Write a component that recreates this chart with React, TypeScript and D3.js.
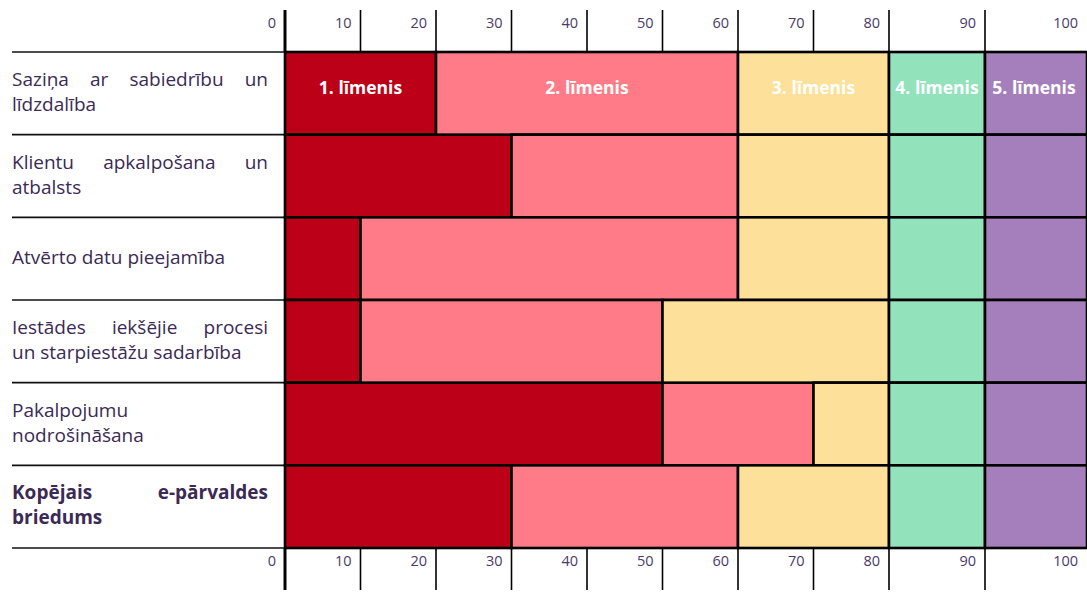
import React, { useEffect, useRef } from 'react';
import * as d3 from 'd3';

// row labels, split into lines as in the source table
const categories = [
  'Saziņa ar sabiedrību un līdzdalība',
  'Klientu apkalpošana un atbalsts',
  'Atvērto datu pieejamība',
  'Iestādes iekšējie procesi un starpiestāžu sadarbība',
  'Pakalpojumu nodrošināšana',
  'Kopējais e-pārvaldes briedums',
];
const labelLines = [
  ['Saziņa ar sabiedrību un', 'līdzdalība'],
  ['Klientu apkalpošana un', 'atbalsts'],
  ['Atvērto datu pieejamība'],
  ['Iestādes iekšējie procesi', 'un starpiestāžu sadarbība'],
  ['Pakalpojumu', 'nodrošināšana'],
  ['Kopējais e-pārvaldes', 'briedums'],
];

const levels = ['1. līmenis', '2. līmenis', '3. līmenis', '4. līmenis', '5. līmenis'];
// width of each level per row
const level1 = [20, 30, 10, 10, 50, 30];
const level2 = [40, 30, 50, 40, 20, 30];
const level3 = [20, 20, 20, 30, 10, 20];
const level4 = [10, 10, 10, 10, 10, 10];
const level5 = [10, 10, 10, 10, 10, 10];

const tickValues = [0, 10, 20, 30, 40, 50, 60, 70, 80, 90, 100];
const colors = ['#bc0018', '#ff7b88', '#fde099', '#92e3bc', '#a47fbb'];

const App: React.FC = () => {
  const ref = useRef<SVGSVGElement | null>(null);

  useEffect(() => {
    const width = 1087;
    const height = 592;
    const svg = d3.select(ref.current);
    svg.selectAll('*').remove();

    const font = "'Open Sans', 'Noto Sans', sans-serif";
    const textColor = '#3b2a55';

    // the source axis is not evenly spaced above 80
    const x = d3.scaleLinear().domain([0, 80, 90, 100]).range([285, 889, 985, 1087]);
    const y = d3.scaleBand<string>().domain(categories).range([52, 548]);

    const table = categories.map((c, i) => ({
      cat: c,
      l0: level1[i], l1: level2[i], l2: level3[i], l3: level4[i], l4: level5[i],
    }));
    const stack = d3.stack<any>().keys(['l0', 'l1', 'l2', 'l3', 'l4'])(table);

    // tick lines + labels, top and bottom
    const axisBands: [number, number, number][] = [[10, 52, 28], [548, 590, 566]];
    axisBands.forEach(([y0, y1, ty]) => {
      svg.append('g').selectAll('line')
        .data(tickValues.filter(v => v < 100))
        .join('line')
          .attr('x1', d => x(d)).attr('x2', d => x(d))
          .attr('y1', y0).attr('y2', y1)
          .attr('stroke', '#000')
          .attr('stroke-width', d => d === 0 ? 3 : 1.6);
      svg.append('g').selectAll('text')
        .data(tickValues)
        .join('text')
          .attr('x', d => x(d) - 9)
          .attr('y', ty)
          .attr('text-anchor', 'end')
          .attr('font-family', font)
          .attr('font-size', 14.5)
          .attr('fill', '#4a3a66')
          .text(d => d);
    });

    // row separators in label column
    const bounds = [...categories.map(c => y(c)!), 548];
    svg.append('g').selectAll('line')
      .data(bounds)
      .join('line')
        .attr('x1', 12).attr('x2', 284)
        .attr('y1', d => d).attr('y2', d => d)
        .attr('stroke', '#111')
        .attr('stroke-width', 1.6);

    // stacked cells
    svg.append('g').selectAll('g')
      .data(stack)
      .join('g')
        .attr('fill', (_, i) => colors[i])
      .selectAll('rect')
      .data(d => d)
      .join('rect')
        .attr('x', d => x(d[0]))
        .attr('y', d => y(d.data.cat)!)
        .attr('width', d => x(d[1]) - x(d[0]))
        .attr('height', y.bandwidth())
        .attr('stroke', '#000')
        .attr('stroke-width', 2.6);

    // level names in the first row
    svg.append('g').selectAll('text')
      .data(stack)
      .join('text')
        .attr('x', (d, i) => (x(d[0][0]) + x(d[0][1])) / 2 + (i === 4 ? -2 : 0))
        .attr('y', y(categories[0])! + y.bandwidth() / 2 + 1)
        .attr('text-anchor', 'middle')
        .attr('font-family', font)
        .attr('font-weight', 700)
        .attr('font-size', 17.5)
        .attr('fill', '#fff')
        .text((_, i) => levels[i]);

    // row labels, justified like the source table
    const left = 12;
    const right = 268;
    const lineGap = 25;
    labelLines.forEach((lines, i) => {
      const cy = y(categories[i])! + y.bandwidth() / 2;
      const bold = i === labelLines.length - 1;
      const g = svg.append('g')
        .attr('font-family', font)
        .attr('font-size', 19)
        .attr('font-weight', bold ? 700 : 400)
        .attr('fill', textColor);
      lines.forEach((line, j) => {
        const baseline = cy + 5 + (j - (lines.length - 1) / 2) * lineGap;
        const words = line.split(' ');
        const justify = j < lines.length - 1 && words.length > 1;
        if (!justify) {
          g.append('text').attr('x', left).attr('y', baseline).text(line);
          return;
        }
        const nodes = words.map(w => g.append('text').attr('y', baseline).text(w));
        const widths = nodes.map(n => (n.node() as SVGTextElement).getComputedTextLength());
        const gap = (right - left - d3.sum(widths)) / (words.length - 1);
        let cx = left;
        nodes.forEach((n, k) => {
          n.attr('x', cx);
          cx += widths[k] + gap;
        });
      });
    });

    svg.attr('width', width).attr('height', height);
  }, []);

  return (
    <svg
      ref={ref}
      width={1087}
      height={592}
      style={{ position: 'absolute', left: 0, top: 0, background: '#fff' }}
    />
  );
};

export default App;
